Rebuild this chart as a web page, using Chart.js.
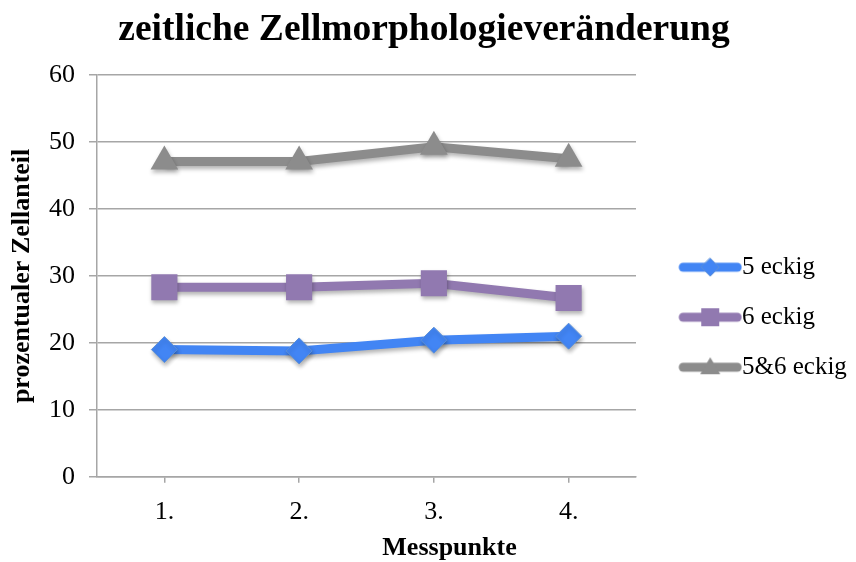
<!DOCTYPE html>
<html lang="de">
  <head>
    <meta charset="UTF-8" />
    <title>zeitliche Zellmorphologieveränderung</title>
    <script src="https://cdn.jsdelivr.net/npm/chart.js@4.4.1/dist/chart.umd.min.js"></script>
    <style>
      body {
        margin: 0;
        padding: 0;
        background-color: #ffffff;
      }

      .chart-container {
        position: relative;
        width: 856px;
        height: 562px;
      }
    </style>
  </head>
  <body>
    <div class="chart-container">
      <canvas id="chart"></canvas>
    </div>

    <script>
      // Daten
      const categories = ["1.", "2.", "3.", "4."];
      const fuenfEckig = [19.0, 18.8, 20.4, 21.0];
      const sechsEckig = [28.3, 28.3, 28.9, 26.7];
      const fuenfSechsEckig = [47.1, 47.1, 49.3, 47.5];
      const yTicks = [0, 10, 20, 30, 40, 50, 60];

      const blue = "#4285f4";
      const purple = "#9179b0";
      const gray = "#8c8c8c";
      const serif = '"Liberation Serif", "Times New Roman", serif';

      // Legendensymbol: dicke Linie mit Marker, rechtsbündig im Bild
      function legendIcon(color, style) {
        const c = document.createElement("canvas");
        c.width = 94;
        c.height = 26;
        const g = c.getContext("2d");
        const o = 32; // Versatz nach rechts
        g.strokeStyle = color;
        g.lineWidth = 9;
        g.lineCap = "round";
        g.beginPath();
        g.moveTo(o + 3, 13);
        g.lineTo(o + 57, 13);
        g.stroke();
        g.fillStyle = color;
        g.beginPath();
        if (style === "rectRot") {
          g.moveTo(o + 30, 4);
          g.lineTo(o + 39, 13);
          g.lineTo(o + 30, 22);
          g.lineTo(o + 21, 13);
        } else if (style === "rect") {
          g.rect(o + 21, 4, 18, 18);
        } else {
          g.moveTo(o + 30, 3);
          g.lineTo(o + 40, 20);
          g.lineTo(o + 20, 20);
        }
        g.closePath();
        g.fill();
        if (style === "rectRot") {
          g.strokeStyle = "#5b8fd6";
          g.lineWidth = 1;
          g.stroke();
        }
        return c;
      }

      const shadowPlugin = {
        id: "shadow",
        beforeDatasetsDraw(chart) {
          const ctx = chart.ctx;
          ctx.save();
          ctx.shadowColor = "rgba(0, 0, 0, 0.3)";
          ctx.shadowBlur = 4;
          ctx.shadowOffsetX = 1;
          ctx.shadowOffsetY = 3;
        },
        afterDatasetsDraw(chart) {
          chart.ctx.restore();
        },
      };

      // x-Achsentitel (im Original nicht über der Zeichenfläche zentriert)
      const xTitlePlugin = {
        id: "xTitle",
        afterDraw(chart) {
          const { ctx, chartArea } = chart;
          ctx.save();
          ctx.font = "bold 26px " + serif;
          ctx.fillStyle = "#000";
          ctx.textAlign = "center";
          ctx.textBaseline = "alphabetic";
          ctx.fillText(
            "Messpunkte",
            (chartArea.left + chartArea.right) / 2 + 83,
            chartArea.bottom + 78
          );
          ctx.restore();
        },
      };

      const ctx = document.getElementById("chart").getContext("2d");

      new Chart(ctx, {
        type: "line",
        data: {
          labels: categories,
          datasets: [
            {
              label: "5 eckig",
              data: fuenfEckig,
              borderColor: blue,
              backgroundColor: blue,
              pointStyle: "rectRot",
              pointRadius: 13,
              pointBorderColor: "#5b8fd6",
              pointBorderWidth: 1,
              legendIcon: legendIcon(blue, "rectRot"),
            },
            {
              label: "6 eckig",
              data: sechsEckig,
              borderColor: purple,
              backgroundColor: purple,
              pointStyle: "rect",
              pointRadius: 18.5,
              pointBorderWidth: 0,
              legendIcon: legendIcon(purple, "rect"),
            },
            {
              label: "5&6 eckig",
              data: fuenfSechsEckig,
              borderColor: gray,
              backgroundColor: gray,
              pointStyle: "triangle",
              pointRadius: 16,
              pointBorderWidth: 0,
              legendIcon: legendIcon(gray, "triangle"),
            },
          ],
        },
        options: {
          responsive: true,
          maintainAspectRatio: false,
          animation: false,
          elements: {
            line: { borderWidth: 9, tension: 0 },
          },
          layout: {
            padding: { left: 0, right: 8, top: 0, bottom: 20 },
          },
          plugins: {
            title: {
              display: true,
              text: "zeitliche Zellmorphologieveränderung",
              color: "#000",
              font: { family: serif, size: 37.5, weight: "bold" },
              padding: { top: 8, bottom: 22 },
            },
            legend: {
              position: "right",
              // leerer Titel schiebt die Einträge nach unten
              title: {
                display: true,
                text: " ",
                font: { size: 12 },
                padding: { top: 0, bottom: 78 },
              },
              labels: {
                color: "#000",
                font: { family: serif, size: 25 },
                usePointStyle: true,
                pointStyleWidth: 68.5,
                padding: 25,
                generateLabels(chart) {
                  return chart.data.datasets.map((ds, i) => ({
                    text: ds.label,
                    fontColor: "#000",
                    pointStyle: ds.legendIcon,
                    fillStyle: ds.borderColor,
                    strokeStyle: ds.borderColor,
                    lineWidth: 0,
                    hidden: false,
                    datasetIndex: i,
                  }));
                },
              },
            },
            tooltip: { enabled: false },
          },
          scales: {
            x: {
              offset: true,
              grid: {
                display: true,
                offset: false,
                drawOnChartArea: false,
                drawTicks: true,
                tickLength: 6,
                color: "#a6a6a6",
                lineWidth: 1.5,
              },
              border: { display: true, color: "#a6a6a6", width: 1.5 },
              ticks: {
                color: "#000",
                font: { family: serif, size: 26 },
                padding: 14,
              },
            },
            y: {
              min: 0,
              max: 60,
              afterBuildTicks(scale) {
                scale.ticks = yTicks.map((v) => ({ value: v }));
              },
              grid: {
                color: "#a6a6a6",
                lineWidth: 1.5,
                tickLength: 8,
              },
              border: { display: true, color: "#a6a6a6", width: 1.5 },
              ticks: {
                color: "#000",
                font: { family: serif, size: 26 },
                padding: 14,
              },
              title: {
                display: true,
                text: "prozentualer Zellanteil",
                color: "#000",
                font: { family: serif, size: 26, weight: "bold", lineHeight: 1 },
                padding: { top: 9, bottom: 0 },
              },
            },
          },
        },
        plugins: [shadowPlugin, xTitlePlugin],
      });
    </script>
  </body>
</html>
